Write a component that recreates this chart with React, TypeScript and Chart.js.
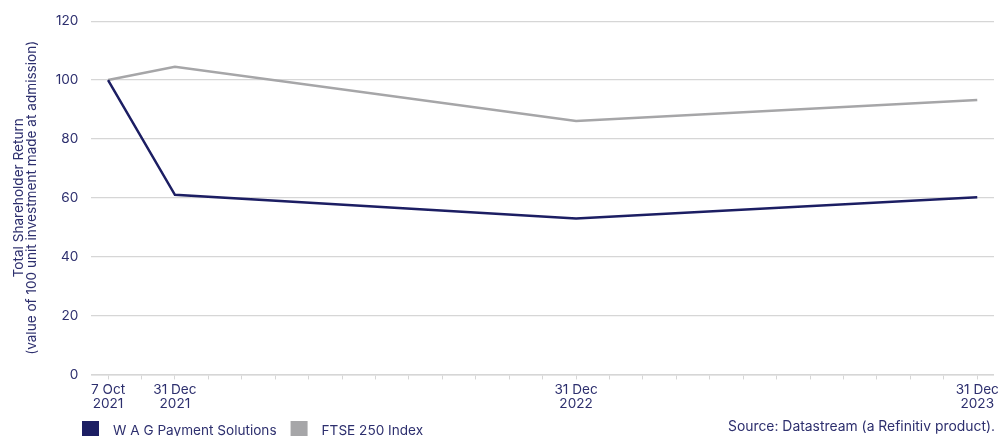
import React, { useEffect, useRef } from "react";
import { Chart, registerables } from "chart.js";

Chart.register(...registerables);

// 27 monthly categories, Oct 2021 .. Dec 2023; only some are labelled
const categories: (string | string[])[] = [
  ["7 Oct", "2021"], "", ["31 Dec", "2021"],
  "", "", "", "", "", "", "", "", "", "", "", ["31 Dec", "2022"],
  "", "", "", "", "", "", "", "", "", "", "", ["31 Dec", "2023"],
];

const wagValues: (number | null)[] = [
  100, null, 61.0,
  null, null, null, null, null, null, null, null, null, null, null, 53.0,
  null, null, null, null, null, null, null, null, null, null, null, 60.2,
];

const ftseValues: (number | null)[] = [
  100, null, 104.5,
  null, null, null, null, null, null, null, null, null, null, null, 86.1,
  null, null, null, null, null, null, null, null, null, null, null, 93.2,
];

const seriesNames = ["W A G Payment Solutions", "FTSE 250 Index"];
const yTicks = [0, 20, 40, 60, 80, 100, 120];
const yTitle = ["Total Shareholder Return", "(value of 100 unit investment made at admission)"];
const sourceText = "Source: Datastream (a Refinitiv product).";

const NAVY = "#1c1e63";
const GREY = "#a6a6a8";
const TEXT = "#2d2f6e";
const GRID = "#d6d6d6";
const FONT = "Inter, 'Noto Sans', sans-serif";
const FS = 13.6;

const legendPlugin = {
  id: "customLegend",
  afterDraw(chart: any) {
    const ctx = chart.ctx;
    ctx.save();
    ctx.font = `${FS}px ${FONT}`;
    ctx.textBaseline = "alphabetic";
    let x = 82;
    chart.data.datasets.forEach((ds: any) => {
      ctx.fillStyle = ds.borderColor;
      ctx.fillRect(x, 421, 17, 16);
      ctx.fillStyle = TEXT;
      ctx.textAlign = "left";
      const tx = x + 31;
      ctx.fillText(ds.label, tx, 435);
      x = tx + ctx.measureText(ds.label).width + 14;
    });
    ctx.textAlign = "right";
    ctx.fillStyle = TEXT;
    ctx.font = `${FS + 0.3}px ${FONT}`;
    ctx.fillText(sourceText, 995, 431);
    ctx.restore();
  },
};

export default function App() {
  const ref = useRef<HTMLCanvasElement>(null);
  useEffect(() => {
    document.body.style.margin = "0";
    const chart = new Chart(ref.current!, {
      type: "line",
      data: {
        labels: categories as any,
        datasets: [
          {
            label: seriesNames[0],
            data: wagValues,
            borderColor: NAVY,
            backgroundColor: NAVY,
            borderWidth: 2.5,
            pointRadius: 0,
            spanGaps: true,
            tension: 0,
          },
          {
            label: seriesNames[1],
            data: ftseValues,
            borderColor: GREY,
            backgroundColor: GREY,
            borderWidth: 2.5,
            pointRadius: 0,
            spanGaps: true,
            tension: 0,
          },
        ],
      },
      options: {
        responsive: false,
        animation: false,
        layout: { padding: { top: 14, right: 6, left: 12, bottom: 22 } },
        plugins: {
          legend: { display: false },
          tooltip: { enabled: false },
        },
        scales: {
          x: {
            type: "category",
            offset: true,
            grid: {
              offset: false,
              drawOnChartArea: false,
              drawTicks: true,
              tickLength: 5,
              color: GRID,
            },
            border: { color: GRID, width: 1.5 },
            ticks: {
              autoSkip: false,
              maxRotation: 0,
              minRotation: 0,
              padding: 3,
              color: TEXT,
              font: { family: FONT, size: FS, lineHeight: 1.05 },
            },
          },
          y: {
            min: 0,
            max: 120,
            afterBuildTicks: (axis: any) => {
              axis.ticks = yTicks.map((v) => ({ value: v }));
            },
            grid: { color: GRID, drawTicks: false, lineWidth: 1.2 },
            border: { display: false },
            ticks: {
              padding: 13,
              color: TEXT,
              font: { family: FONT, size: FS },
            },
            title: {
              display: true,
              text: yTitle,
              color: TEXT,
              font: { family: FONT, size: FS, lineHeight: 0.98 },
              padding: { top: 0, bottom: 4 },
            },
          },
        },
      },
      plugins: [legendPlugin],
    });
    return () => chart.destroy();
  }, []);
  return (
    <canvas
      ref={ref}
      width={1002}
      height={436}
      style={{ display: "block", position: "fixed", left: 0, top: 0 }}
    />
  );
}
